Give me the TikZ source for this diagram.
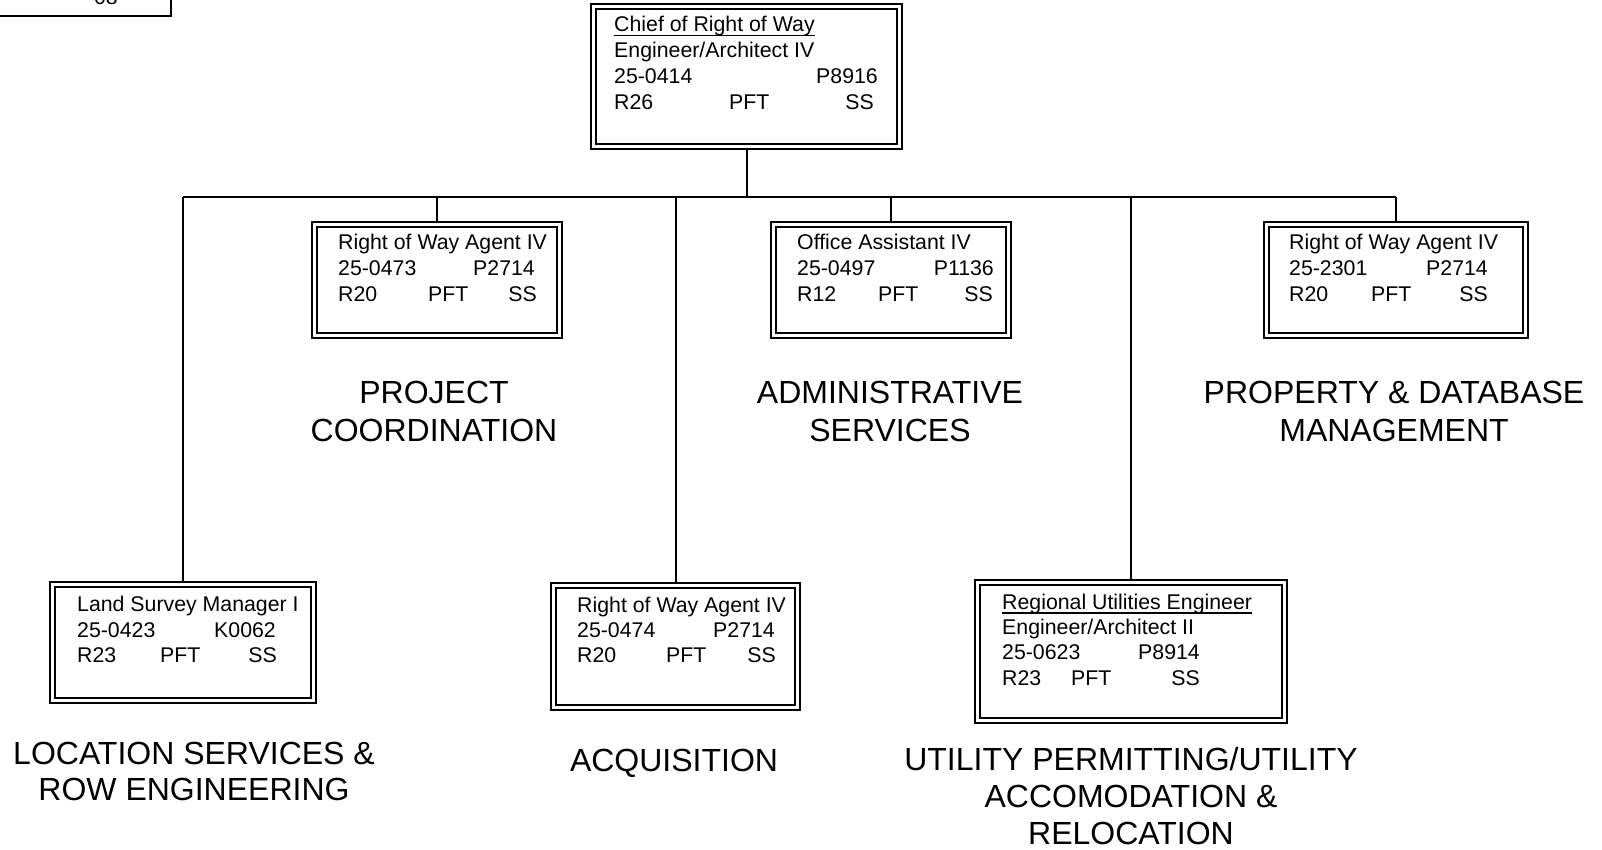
\documentclass[tikz,border=0pt]{standalone}
\usepackage{fontspec}
\setmainfont{Liberation Sans}
\usetikzlibrary{calc}
\newcommand\bxfont{\fontsize{21.3}{24.5}\selectfont}
\newcommand\lblfont{\fontsize{32}{38.5}\selectfont}
\begin{document}
\begin{tikzpicture}[x=1pt,y=-1pt,
  ob/.style={draw, line width=2pt, inner sep=0pt, outer sep=0pt},
  ib/.style={line width=1.3pt},
  conn/.style={line width=2pt},
  tl/.style={font=\bxfont, inner sep=0pt, anchor=base west},
  tr/.style={font=\bxfont, inner sep=0pt, anchor=base east},
  ul/.style={line width=1.1pt},
  lbl/.style={font=\lblfont, inner sep=0pt, align=center},
]
\useasboundingbox (0,0) rectangle (1602,850);

% partial box top-left
\draw[line width=1.8pt] (-10,-30) rectangle (171,16);
\node[tl, anchor=base] (corner) at (106,5) {08};

% boxes
\node[ob, minimum width=311pt, minimum height=145pt] (top) at (746.5,76.5) {};
\node[ob, minimum width=250pt, minimum height=116pt] (proj) at (437,280) {};
\node[ob, minimum width=240pt, minimum height=116pt] (admin) at (891,280) {};
\node[ob, minimum width=264pt, minimum height=116pt] (prop) at (1396,280) {};
\node[ob, minimum width=266pt, minimum height=121pt] (land) at (183,642.5) {};
\node[ob, minimum width=249pt, minimum height=127pt] (acq) at (675.5,646.5) {};
\node[ob, minimum width=312pt, minimum height=143pt] (util) at (1131,651.5) {};
\foreach \b in {top,proj,admin,prop,land,acq,util}{
  \draw[ib] ([xshift=5pt,yshift=5pt]\b.south west) rectangle ([xshift=-5pt,yshift=-5pt]\b.north east);
}

% connectors
\coordinate (b1) at (183,197);
\coordinate (b2) at (437,197);
\coordinate (b3) at (675.5,197);
\coordinate (b4) at (891,197);
\coordinate (b5) at (1131,197);
\coordinate (b6) at (1396,197);
\draw[conn] (b1) -- (b6);
\draw[conn] (top.south) -- (top.south |- b1);
\draw[conn] (b1) -- (land.north);
\draw[conn] (b2) -- (proj.north);
\draw[conn] (b3) -- (acq.north);
\draw[conn] (b4) -- (admin.north);
\draw[conn] (b5) -- (util.north);
\draw[conn] (b6) -- (prop.north);

% top box text
\node[tl] (t1) at (614,32) {Chief of Right of Way};
\draw[ul] ($(t1.base west)+(0,3.5)$) -- ($(t1.base east)+(0,3.5)$);
\node[tl] (t2) at (614,57.5) {Engineer/Architect IV};
\node[tl] (t3) at (614,83.5) {25-0414};
\node[tr] (t4) at (878,83.5) {P8916};
\node[tl] (t5) at (614,109.5) {R26};
\node[tl] (t6) at (729,109.5) {PFT};
\node[tr] (t7) at (874,109.5) {SS};

% project coordination box
\node[tl] (p1) at (338,249.5) {Right of Way Agent IV};
\node[tl] (p2) at (338,275) {25-0473};
\node[tr] (p3) at (535,275) {P2714};
\node[tl] (p4) at (338,301) {R20};
\node[tl] (p5) at (428,301) {PFT};
\node[tr] (p6) at (537,301) {SS};

% admin box
\node[tl] (a1) at (797,249.5) {Office Assistant IV};
\node[tl] (a2) at (797,275) {25-0497};
\node[tr] (a3) at (994,275) {P1136};
\node[tl] (a4) at (797,301) {R12};
\node[tl] (a5) at (878,301) {PFT};
\node[tr] (a6) at (993,301) {SS};

% property box
\node[tl] (r1) at (1289,249.5) {Right of Way Agent IV};
\node[tl] (r2) at (1289,275) {25-2301};
\node[tr] (r3) at (1488,275) {P2714};
\node[tl] (r4) at (1289,301) {R20};
\node[tl] (r5) at (1371,301) {PFT};
\node[tr] (r6) at (1488,301) {SS};

% land survey box
\node[tl] (l1) at (77,611.5) {Land Survey Manager I};
\node[tl] (l2) at (77,637) {25-0423};
\node[tr] (l3) at (276,637) {K0062};
\node[tl] (l4) at (77,662.5) {R23};
\node[tl] (l5) at (160,662.5) {PFT};
\node[tr] (l6) at (277,662.5) {SS};

% acquisition box
\node[tl] (q1) at (577,612.5) {Right of Way Agent IV};
\node[tl] (q2) at (577,637) {25-0474};
\node[tr] (q3) at (775,637) {P2714};
\node[tl] (q4) at (577,662.5) {R20};
\node[tl] (q5) at (666,662.5) {PFT};
\node[tr] (q6) at (776,662.5) {SS};

% utility box
\node[tl] (u1) at (1002,609.5) {Regional Utilities Engineer};
\draw[ul] ($(u1.base west)+(0,3.5)$) -- ($(u1.base east)+(0,3.5)$);
\node[tl] (u2) at (1002,634) {Engineer/Architect II};
\node[tl] (u3) at (1002,659.5) {25-0623};
\node[tr] (u4) at (1200,659.5) {P8914};
\node[tl] (u5) at (1002,685) {R23};
\node[tl] (u6) at (1071,685) {PFT};
\node[tr] (u7) at (1200,685) {SS};

% section labels
\node[lbl] (lproj) at (434,411.5) {PROJECT\\COORDINATION};
\node[lbl] (ladmin) at (890,411.5) {ADMINISTRATIVE\\SERVICES};
\node[lbl] (lprop) at (1394,411.5) {PROPERTY \& DATABASE\\MANAGEMENT};
\node[lbl, font=\fontsize{32}{36.8}\selectfont] (lland) at (194,771.5) {LOCATION SERVICES \&\\ROW ENGINEERING};
\node[lbl] (lacq) at (674,763) {ACQUISITION};
\node[lbl, font=\fontsize{32}{37.2}\selectfont] (lutil) at (1131,796) {UTILITY PERMITTING/UTILITY\\ACCOMODATION \&\\RELOCATION};
\end{tikzpicture}
\end{document}
